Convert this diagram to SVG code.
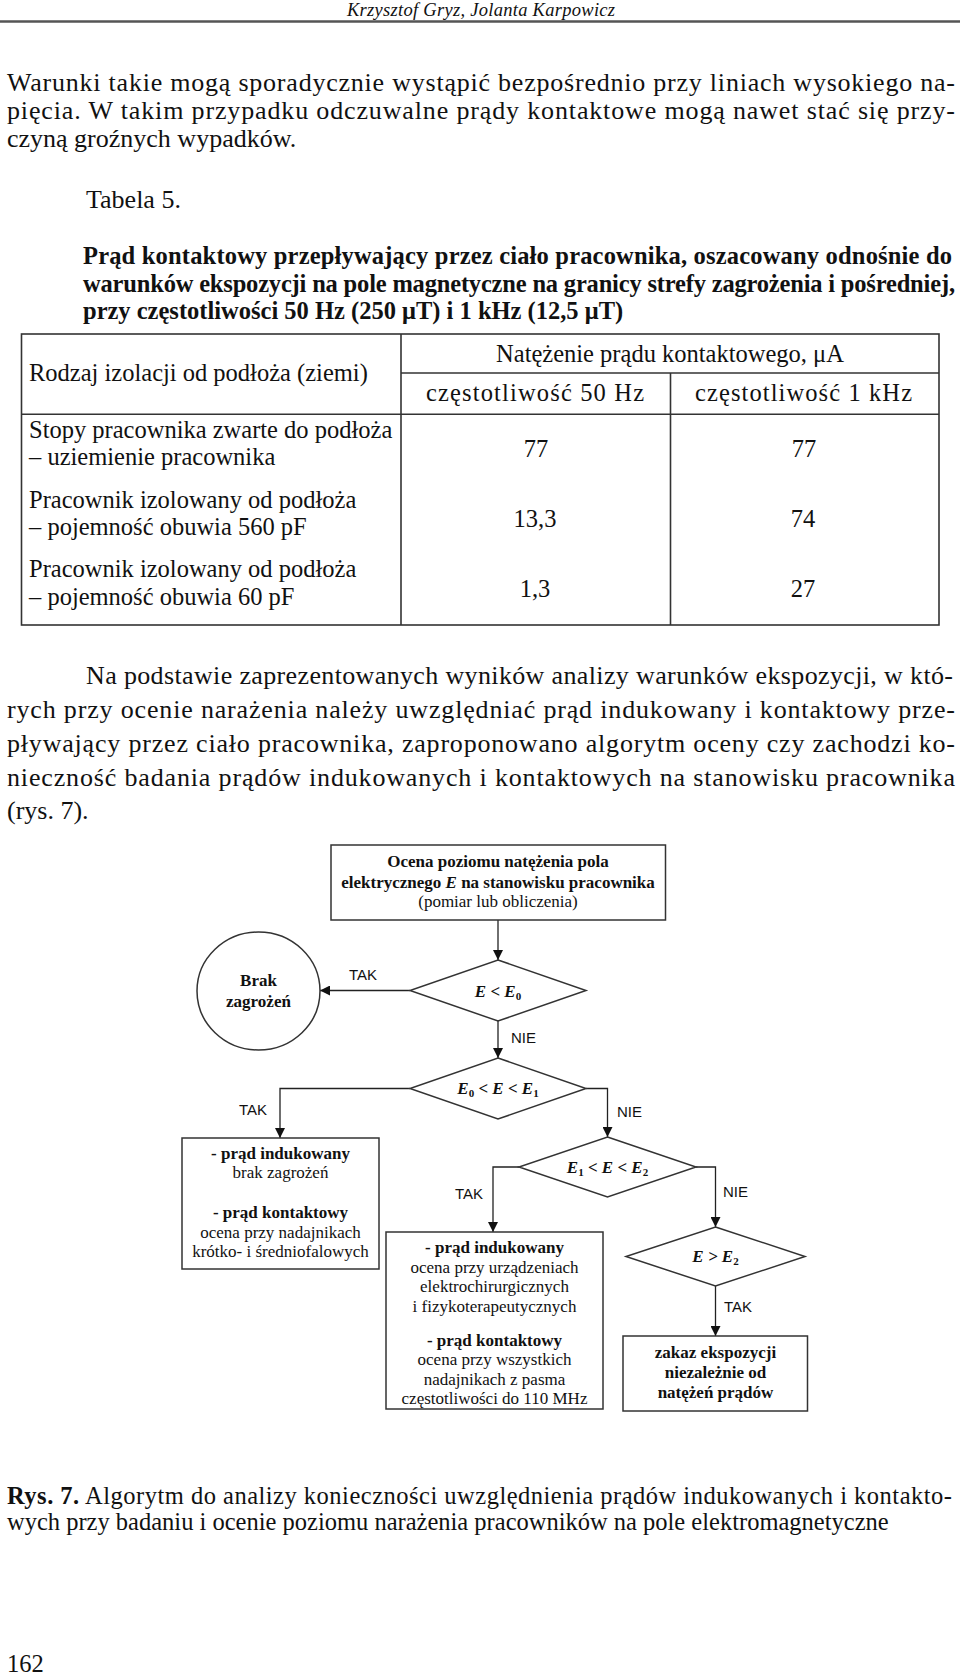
<svg xmlns="http://www.w3.org/2000/svg" width="960" height="1676" viewBox="0 0 960 1676">
<style>
text{fill:#111}
.hdr{font-family:"Liberation Serif",serif;font-style:italic;font-size:18.5px}
.t{font-family:"Liberation Serif",serif;font-size:26px}
.s{font-family:"Liberation Serif",serif;font-size:24.5px}
.b{font-weight:bold}
.i{font-style:italic}
.fc{font-family:"Liberation Serif",serif;font-size:17px}
.sub{font-size:11px;font-style:normal}
.lbl{font-family:"Liberation Sans",Arial,sans-serif;font-size:15px}
.tb{stroke:#333;stroke-width:1.6;fill:none}
.shape{fill:#fff;stroke:#333;stroke-width:1.5}
.ln{stroke:#222;stroke-width:1.3;fill:none}
</style>
<defs>
<marker id="arr" markerUnits="userSpaceOnUse" markerWidth="10" markerHeight="10" refX="10" refY="5" orient="auto">
<path d="M0,0 L10,5 L0,10 z" fill="#111"/>
</marker>
</defs>
<rect width="960" height="1676" fill="#fff"/>

<g id="page-header">
<text class="hdr" x="347" y="16" textLength="268" lengthAdjust="spacing">Krzysztof Gryz, Jolanta Karpowicz</text>
<line x1="0" y1="21.5" x2="960" y2="21.5" stroke="#555" stroke-width="2.5"/>
</g>

<g id="paragraph-1">
<text class="t" x="7" y="91" textLength="948" lengthAdjust="spacing">Warunki takie mogą sporadycznie wystąpić bezpośrednio przy liniach wysokiego na-</text>
<text class="t" x="7" y="119" textLength="948" lengthAdjust="spacing">pięcia. W takim przypadku odczuwalne prądy kontaktowe mogą nawet stać się przy-</text>
<text class="t" x="7" y="147">czyną groźnych wypadków.</text>
</g>

<g id="table-title">
<text class="t" x="86" y="208">Tabela 5.</text>
<text class="s b" x="83" y="264" textLength="869" lengthAdjust="spacing">Prąd kontaktowy przepływający przez ciało pracownika, oszacowany odnośnie do</text>
<text class="s b" x="83" y="292" textLength="872" lengthAdjust="spacing">warunków ekspozycji na pole magnetyczne na granicy strefy zagrożenia i pośredniej,</text>
<text class="s b" x="83" y="319">przy częstotliwości 50 Hz (250 μT) i 1 kHz (12,5 μT)</text>
</g>

<g id="table-5">
<rect class="tb" x="21.5" y="334" width="917.5" height="291"/>
<line class="tb" x1="401" y1="334" x2="401" y2="625"/>
<line class="tb" x1="670.5" y1="373" x2="670.5" y2="625"/>
<line class="tb" x1="401" y1="373" x2="939" y2="373"/>
<line class="tb" x1="21.5" y1="414.3" x2="939" y2="414.3"/>
<text class="s" x="670" y="362" text-anchor="middle">Natężenie prądu kontaktowego, μA</text>
<text class="s" x="29" y="381">Rodzaj izolacji od podłoża (ziemi)</text>
<text class="s" x="426" y="401" textLength="218" lengthAdjust="spacing">częstotliwość 50 Hz</text>
<text class="s" x="695" y="401" textLength="217" lengthAdjust="spacing">częstotliwość 1 kHz</text>
<text class="s" x="29" y="438">Stopy pracownika zwarte do podłoża</text>
<text class="s" x="29" y="465">– uziemienie pracownika</text>
<text class="s" x="536" y="457" text-anchor="middle">77</text>
<text class="s" x="804" y="457" text-anchor="middle">77</text>
<text class="s" x="29" y="508">Pracownik izolowany od podłoża</text>
<text class="s" x="29" y="535">– pojemność obuwia 560 pF</text>
<text class="s" x="535" y="527" text-anchor="middle">13,3</text>
<text class="s" x="803" y="527" text-anchor="middle">74</text>
<text class="s" x="29" y="577">Pracownik izolowany od podłoża</text>
<text class="s" x="29" y="605">– pojemność obuwia 60 pF</text>
<text class="s" x="535" y="597" text-anchor="middle">1,3</text>
<text class="s" x="803" y="597" text-anchor="middle">27</text>
</g>

<g id="paragraph-2">
<text class="t" x="86" y="684" textLength="867" lengthAdjust="spacing">Na podstawie zaprezentowanych wyników analizy warunków ekspozycji, w któ-</text>
<text class="t" x="7" y="718" textLength="948" lengthAdjust="spacing">rych przy ocenie narażenia należy uwzględniać prąd indukowany i kontaktowy prze-</text>
<text class="t" x="7" y="752" textLength="948" lengthAdjust="spacing">pływający przez ciało pracownika, zaproponowano algorytm oceny czy zachodzi ko-</text>
<text class="t" x="7" y="786" textLength="948" lengthAdjust="spacing">nieczność badania prądów indukowanych i kontaktowych na stanowisku pracownika</text>
<text class="t" x="7" y="819">(rys. 7).</text>
</g>

<g id="connectors">
<line class="ln" x1="498" y1="920" x2="498" y2="960" marker-end="url(#arr)"/>
<line class="ln" x1="410" y1="990.5" x2="320" y2="990.5" marker-end="url(#arr)"/>
<line class="ln" x1="498" y1="1021" x2="498" y2="1058" marker-end="url(#arr)"/>
<polyline class="ln" points="410,1088.5 280,1088.5 280,1138" marker-end="url(#arr)"/>
<polyline class="ln" points="586,1088.5 607.5,1088.5 607.5,1137" marker-end="url(#arr)"/>
<polyline class="ln" points="519,1167 493,1167 493,1232" marker-end="url(#arr)"/>
<polyline class="ln" points="696,1167 715.5,1167 715.5,1227" marker-end="url(#arr)"/>
<line class="ln" x1="715.5" y1="1286" x2="715.5" y2="1336" marker-end="url(#arr)"/>
<text class="lbl" x="349" y="980">TAK</text>
<text class="lbl" x="511" y="1043">NIE</text>
<text class="lbl" x="239" y="1115">TAK</text>
<text class="lbl" x="617" y="1117">NIE</text>
<text class="lbl" x="455" y="1199">TAK</text>
<text class="lbl" x="723" y="1197">NIE</text>
<text class="lbl" x="724" y="1312">TAK</text>
</g>

<g id="n-start">
<rect class="shape" x="331" y="845" width="334.5" height="75"/>
<text class="fc b" x="498" y="867" text-anchor="middle">Ocena poziomu natężenia pola</text>
<text class="fc b" x="498" y="888" text-anchor="middle">elektrycznego <tspan class="i">E</tspan> na stanowisku pracownika</text>
<text class="fc" x="498" y="907" text-anchor="middle">(pomiar lub obliczenia)</text>
</g>

<g id="n-brak">
<ellipse class="shape" cx="258.5" cy="991" rx="61.5" ry="59"/>
<text class="fc b" x="258.5" y="986" text-anchor="middle">Brak</text>
<text class="fc b" x="258.5" y="1007" text-anchor="middle">zagrożeń</text>
</g>

<g id="n-d1">
<polygon class="shape" points="498,960 586,990.5 498,1021 410,990.5"/>
<text class="fc b i" x="498" y="997" text-anchor="middle">E &lt; E<tspan class="sub" dy="3">0</tspan></text>
</g>

<g id="n-d2">
<polygon class="shape" points="498,1058 586,1088.5 498,1119 410,1088.5"/>
<text class="fc b i" x="498" y="1094" text-anchor="middle">E<tspan class="sub" dy="3">0</tspan><tspan dy="-3"> &lt; E &lt; E</tspan><tspan class="sub" dy="3">1</tspan></text>
</g>

<g id="n-box1">
<rect class="shape" x="182" y="1138" width="197" height="131"/>
<text class="fc b" x="280.5" y="1159" text-anchor="middle">- prąd indukowany</text>
<text class="fc" x="280.5" y="1178" text-anchor="middle">brak zagrożeń</text>
<text class="fc b" x="280.5" y="1218" text-anchor="middle">- prąd kontaktowy</text>
<text class="fc" x="280.5" y="1237.5" text-anchor="middle">ocena przy nadajnikach</text>
<text class="fc" x="280.5" y="1257" text-anchor="middle">krótko- i średniofalowych</text>
</g>

<g id="n-d3">
<polygon class="shape" points="607.5,1137 696,1167 607.5,1197 519,1167"/>
<text class="fc b i" x="607.5" y="1172.5" text-anchor="middle">E<tspan class="sub" dy="3">1</tspan><tspan dy="-3"> &lt; E &lt; E</tspan><tspan class="sub" dy="3">2</tspan></text>
</g>

<g id="n-box2">
<rect class="shape" x="386" y="1232" width="217" height="177"/>
<text class="fc b" x="494.5" y="1253" text-anchor="middle">- prąd indukowany</text>
<text class="fc" x="494.5" y="1273" text-anchor="middle">ocena przy urządzeniach</text>
<text class="fc" x="494.5" y="1292" text-anchor="middle">elektrochirurgicznych</text>
<text class="fc" x="494.5" y="1311.5" text-anchor="middle">i fizykoterapeutycznych</text>
<text class="fc b" x="494.5" y="1345.5" text-anchor="middle">- prąd kontaktowy</text>
<text class="fc" x="494.5" y="1365" text-anchor="middle">ocena przy wszystkich</text>
<text class="fc" x="494.5" y="1384.5" text-anchor="middle">nadajnikach z pasma</text>
<text class="fc" x="494.5" y="1403.5" text-anchor="middle">częstotliwości do 110 MHz</text>
</g>

<g id="n-d4">
<polygon class="shape" points="715.5,1227 805,1256.5 715.5,1286 626,1256.5"/>
<text class="fc b i" x="715.5" y="1262" text-anchor="middle">E &gt; E<tspan class="sub" dy="3">2</tspan></text>
</g>

<g id="n-box3">
<rect class="shape" x="623" y="1336" width="184.5" height="75"/>
<text class="fc b" x="715.5" y="1358" text-anchor="middle">zakaz ekspozycji</text>
<text class="fc b" x="715.5" y="1378" text-anchor="middle">niezależnie od</text>
<text class="fc b" x="715.5" y="1398" text-anchor="middle">natężeń prądów</text>
</g>

<g id="caption">
<text class="s" x="7" y="1504" textLength="945" lengthAdjust="spacing"><tspan class="b">Rys. 7.</tspan> Algorytm do analizy konieczności uwzględnienia prądów indukowanych i kontakto-</text>
<text class="s" x="7" y="1530">wych przy badaniu i ocenie poziomu narażenia pracowników na pole elektromagnetyczne</text>
<text class="s" x="7" y="1672">162</text>
</g>
</svg>
